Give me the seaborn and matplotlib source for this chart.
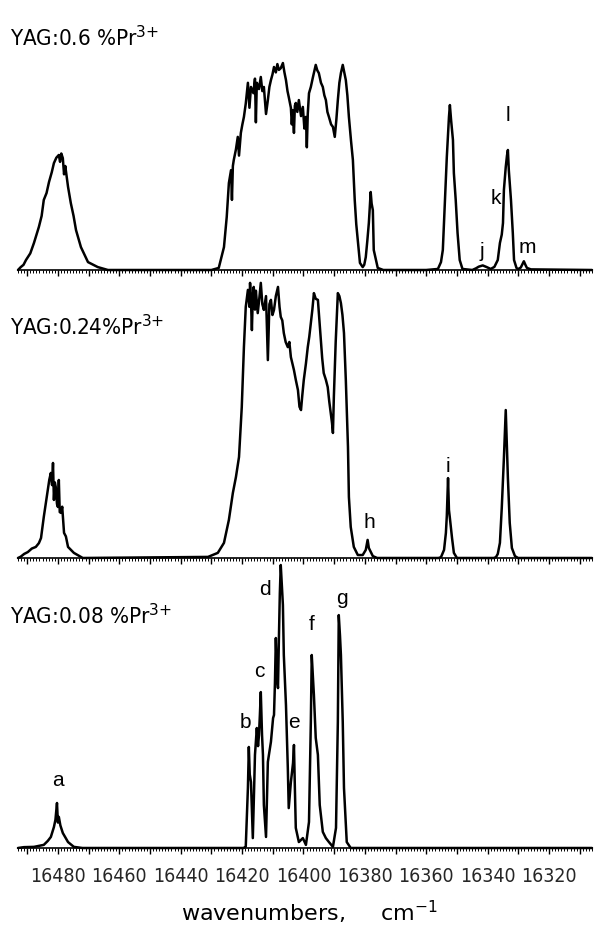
import matplotlib
matplotlib.use("Agg")
import matplotlib.pyplot as plt
from matplotlib import font_manager as fm
from matplotlib.ticker import MultipleLocator, FuncFormatter
import seaborn as sns
import pandas as pd

sns.set_theme(style="white")
plt.rcParams["font.family"] = ["Liberation Sans", "DejaVu Sans"]

# ---------------------------------------------------------------------------
# Spectra (wavenumber in cm^-1, intensity in arbitrary units per sample)
# ---------------------------------------------------------------------------
wn_06 = [16493, 16492.1, 16491.2, 16490.4, 16489.0, 16487.8, 16486.2, 16485.3, 16484.6, 16483.7,
         16482.9, 16482.0, 16481.3, 16480.5, 16479.7, 16479.3, 16478.9, 16478.4, 16478.0, 16477.6,
         16476.7, 16475.8, 16474.9, 16474.1, 16472.5, 16470.2, 16467.0, 16463.7, 16430.0,
         16427.6, 16425.9, 16425.0, 16424.3, 16423.6, 16423.3, 16423.0, 16422.7, 16422.0, 16421.4,
         16421.0, 16420.4, 16419.9, 16419.4, 16418.8, 16418.1, 16417.6, 16417.1, 16416.3, 16415.8,
         16415.5, 16415.2, 16414.5, 16413.9, 16413.4, 16412.9, 16412.2, 16411.6, 16411.1, 16410.6,
         16410.1, 16409.6, 16409.0, 16408.5, 16408.0, 16407.4, 16406.7, 16406.2, 16405.7, 16405.2,
         16404.8, 16404.1, 16403.8, 16403.5, 16403.1, 16402.8, 16402.5, 16402.0, 16401.5, 16400.8,
         16400.2, 16399.7, 16399.2, 16398.9, 16398.6, 16398.2, 16397.6, 16396.9, 16396.0, 16395.5,
         16395.0, 16394.3, 16393.7, 16393.2, 16392.7, 16392.2, 16391.7, 16391.0, 16390.4, 16389.8,
         16389.3, 16388.8, 16388.3, 16387.8, 16387.2, 16386.7, 16386.2, 16385.7, 16385.2, 16384.5,
         16383.9, 16383.3, 16382.8, 16382.3, 16381.6, 16380.7, 16380.2, 16379.7, 16379.2, 16378.7,
         16378.1, 16377.8, 16377.4, 16377.1, 16375.8, 16374.0, 16360.0, 16356.2, 16355.2, 16354.6,
         16354.0, 16353.3, 16352.6, 16352.3, 16351.9, 16351.3, 16351.0, 16350.4, 16349.8, 16349.1,
         16348.2, 16345.0, 16343.8, 16342.9, 16341.6, 16340.3, 16339.0, 16337.8, 16336.7, 16336.0,
         16335.4, 16335.0, 16334.7, 16334.1, 16333.7, 16333.4, 16333.1, 16332.7, 16332.4, 16331.8,
         16331.4, 16330.6, 16330.1, 16329.2, 16328.6, 16328.2, 16327.7, 16327.2, 16325.9, 16306]
int_06 = [0, 1.4, 2.5, 4.8, 8, 13, 20.7, 26, 33.7, 37,
          42.3, 47, 51.4, 54, 55.3, 52, 56, 53.8, 46, 50,
          40, 32.2, 26, 19.2, 11, 3.8, 1.4, 0, 0,
          1, 11, 25.5, 41.8, 48, 33.7, 50, 52.9, 58, 64,
          55, 65.9, 70, 73.6, 80, 90, 78, 88, 85, 92,
          71, 90, 87, 92.8, 86, 88, 75, 81.7, 88, 91.3,
          94, 97.6, 95, 99, 96.2, 97, 99.5, 95, 91.3, 86,
          83.2, 78, 70, 76.9, 65.9, 79, 80.3, 76, 81.7, 74,
          78.4, 68, 73.6, 59, 75, 85, 88, 92.8, 98.6, 96,
          94.7, 90, 88, 84, 81.7, 76, 73.6, 70, 68.8, 64,
          72, 81.7, 90, 94.7, 98.6, 95, 91.3, 84, 73.6, 62,
          52.9, 33.7, 22, 14.4, 3.4, 1.4, 2.5, 6.2, 14, 22.6,
          37.5, 32, 28.8, 9.6, 1, 0, 0, 0.5, 3.8, 9.6,
          30.3, 54.3, 73.6, 79.3, 72, 62.5, 46.6, 33.7, 17.8, 4.8,
          0.5, 0, 0.8, 1.6, 2.2, 1.4, 0.5, 1.5, 4.8, 13,
          17, 22.6, 38.5, 49.5, 55, 57.7, 48, 40, 33.7, 17.8,
          4.8, 1, 0.4, 1.2, 3, 4.2, 2.5, 1, 0.3, 0]

wn_024 = [16493, 16492.1, 16491.0, 16489.8, 16488.5, 16487.2, 16486.2, 16485.5, 16484.6, 16483.3,
          16482.8, 16482.3, 16481.9, 16481.6, 16481.3, 16481.0, 16480.7, 16480.3, 16480.0, 16479.7,
          16479.4, 16479.0, 16478.6, 16478.0, 16477.4, 16476.7, 16474.8, 16471.9, 16431.1, 16427.9,
          16425.9, 16424.3, 16423.0, 16422.0, 16421.0, 16420.1, 16419.4, 16418.8, 16418.1, 16417.6,
          16417.4, 16417.1, 16416.8, 16416.5, 16416.2, 16415.8, 16415.5, 16414.9, 16414.4, 16413.9,
          16413.4, 16412.9, 16412.2, 16411.6, 16411.1, 16410.6, 16410.1, 16409.6, 16409.0, 16408.3,
          16407.8, 16407.4, 16406.9, 16406.4, 16405.8, 16405.1, 16404.6, 16404.1, 16403.6, 16403.1,
          16402.5, 16401.8, 16401.3, 16400.8, 16400.4, 16399.9, 16399.2, 16398.6, 16398.1, 16397.6,
          16397.1, 16396.6, 16396.0, 16395.3, 16394.8, 16394.3, 16393.9, 16393.4, 16392.7, 16392.1,
          16391.6, 16391.1, 16390.7, 16390.4, 16390.1, 16389.5, 16388.8, 16388.3, 16387.8, 16387.3,
          16386.8, 16386.2, 16385.5, 16385.2, 16384.6, 16383.6, 16382.3, 16380.7, 16379.7, 16379.1,
          16378.7, 16377.4, 16376.0, 16356.0, 16355.2, 16354.2, 16353.6, 16353.3, 16352.9, 16352.6,
          16352.3, 16351.6, 16351.0, 16350.0, 16338.0, 16337.3, 16336.7, 16336.0, 16335.4, 16334.7,
          16334.1, 16333.8, 16333.4, 16332.8, 16332.1, 16331.1, 16330.1, 16306]
int_024 = [0, 0.5, 1.5, 2.2, 3.5, 4.1, 5.5, 7.4, 15.2, 25.2,
           29, 31.5, 27, 35.2, 21.5, 28, 26.3, 20, 18.9, 28.9,
           17, 16.7, 19, 9.3, 8, 4.1, 1.9, 0, 0.4, 1.9,
           5.6, 14.1, 24.1, 30, 37.4, 55.9, 78.1, 93, 99.3, 93,
           101.9, 95.6, 84.4, 97, 100.4, 92, 99, 90.7, 96, 101.9,
           94, 91.9, 97, 73.3, 94, 95.6, 90, 91.9, 97, 100.4,
           93, 89.3, 88, 83.3, 80, 78.1, 80, 74.4, 72, 69.6,
           66, 62.2, 56, 54.8, 60, 65.9, 72, 78.1, 82, 87,
           92, 98.1, 96, 95.6, 88, 80.7, 74, 68.5, 66, 63.3,
           58, 53.7, 50, 46.3, 59.6, 80, 98.1, 97, 94.4, 90,
           83.3, 65.9, 41.1, 22.6, 11.5, 4.1, 1.1, 1.1, 3, 6.7,
           3.7, 0.7, 0, 0, 0.3, 3, 9.3, 15.6, 29.6, 17.8,
           14.8, 7.4, 1.9, 0, 0, 0.3, 1.5, 5.6, 18.5, 37,
           54.8, 44.4, 29.6, 13, 3.7, 0.7, 0, 0]

wn_008 = [16493, 16491.1, 16487.8, 16484.6, 16483.3, 16482.3, 16481.3, 16480.8, 16480.3, 16480.0,
          16479.7, 16479.2, 16478.4, 16476.7, 16474.8, 16472.0, 16419.5, 16418.8, 16418.1, 16417.8,
          16417.5, 16417.1, 16416.5, 16416.1, 16415.8, 16415.2, 16414.8, 16414.5, 16414.2, 16413.9,
          16413.5, 16413.2, 16412.9, 16412.2, 16411.6, 16411.1, 16410.6, 16409.9, 16409.6, 16409.3,
          16409.0, 16408.6, 16408.3, 16408.0, 16407.7, 16407.4, 16407.0, 16406.7, 16406.4, 16405.7,
          16405.1, 16404.8, 16404.1, 16403.4, 16403.1, 16402.8, 16402.5, 16401.5, 16400.2, 16399.2,
          16398.2, 16397.6, 16397.3, 16396.9, 16396.6, 16396.0, 16395.3, 16394.7, 16393.7, 16392.7,
          16391.7, 16390.4, 16389.4, 16388.8, 16388.5, 16388.1, 16387.8, 16387.2, 16386.8, 16385.9,
          16384.6, 16306]
int_008 = [0, 0.3, 0.4, 1.1, 2.5, 3.9, 7.4, 10, 15.9, 9,
           11, 8, 5.3, 2.1, 0.4, 0, 0, 0.5, 21.2, 35.7,
           26, 23.3, 3.5, 20, 32.9, 42.4, 36, 39.9, 47, 55.1,
           40, 32.9, 15.2, 3.9, 30.4, 34, 37.5, 45.9, 47, 58,
           74.2, 60, 56.5, 74.2, 90, 100, 92, 85.9, 68.2, 50.5,
           28.3, 14.1, 23.3, 30, 36.4, 21.2, 7.1, 2.1, 3.5, 1.1,
           9.2, 44.5, 68.2, 60, 54.1, 38.9, 32.9, 15.2, 5.7, 3.5,
           2.1, 0.4, 7.1, 44.5, 82.3, 75, 68.2, 44.5, 21.2, 2.1,
           0, 0]

# Line assignments: letter, wavenumber of the line, label height
letters_06 = ["j", "k", "l", "m"]
lwn_06 = [16341.8, 16337.3, 16333.4, 16327.2]
lh_06 = [8.7, 34.6, 74.5, 10.6]

letters_024 = ["h", "i"]
lwn_024 = [16378.4, 16352.9]
lh_024 = [13, 34]

letters_008 = ["a", "b", "c", "d", "e", "f", "g"]
lwn_008 = [16480.0, 16418.8, 16414.5, 16412.6, 16403.1, 16397.3, 16387.5]
lh_008 = [24, 44.5, 62.2, 91.2, 44.5, 78.8, 88.3]

sample_names = ["YAG:0.6 %Pr$^{3{+}}$", "YAG:0.24%Pr$^{3{+}}$", "YAG:0.08 %Pr$^{3{+}}$"]
tick_values = [16480, 16460, 16440, 16420, 16400, 16380, 16360, 16340, 16320]

# ---------------------------------------------------------------------------
# Pick a narrow sans face if one is installed, else a regular one
# ---------------------------------------------------------------------------
def find_narrow():
    for f in fm.fontManager.ttflist:
        nm = f.name.lower()
        stretch = str(f.stretch).lower()
        narrow = ("narrow" in nm or "condensed" in nm or
                  stretch in ("condensed", "semi-condensed", "extra-condensed"))
        if narrow and f.style == "normal" and str(f.weight) in ("400", "normal", "regular", "book"):
            return f.fname
    return None

narrow_file = find_narrow()

def label_font(size):
    if narrow_file:
        return fm.FontProperties(fname=narrow_file, size=size)
    return fm.FontProperties(family=["Liberation Sans", "DejaVu Sans"], size=size)

# ---------------------------------------------------------------------------
W, H = 594, 938
fig = plt.figure(figsize=(W / 100, H / 100), dpi=100)
fig.patch.set_facecolor("white")

def px_axes(x0, x1, y_base, height):
    return fig.add_axes([x0 / W, (H - y_base) / H, (x1 - x0) / W, height / H])

panels = [
    (wn_06, int_06, letters_06, lwn_06, lh_06, 270, 208, 38),
    (wn_024, int_024, letters_024, lwn_024, lh_024, 558, 270, 327),
    (wn_008, int_008, letters_008, lwn_008, lh_008, 848, 283, 616),
]

for k, (wn, inten, letters, lwn, lh, y_base, height, y_name) in enumerate(panels):
    ax = px_axes(18, 592, y_base, height)
    ax.set_facecolor("none")
    df = pd.DataFrame({"wavenumber": wn, "intensity": inten})
    sns.lineplot(data=df, x="wavenumber", y="intensity", ax=ax, color="black",
                 linewidth=1.8, sort=False, estimator=None)
    for line in ax.lines:
        line.set_clip_on(False)
    ax.set_xlim(16493, 16306)
    ax.set_ylim(0, 100)
    ax.set_xlabel("")
    ax.set_ylabel("")
    ax.set_yticks([])
    for side in ["left", "right", "top"]:
        ax.spines[side].set_visible(False)
    ax.spines["bottom"].set_color("black")
    ax.spines["bottom"].set_linewidth(1.2)
    ax.xaxis.set_major_locator(MultipleLocator(10))
    ax.xaxis.set_minor_locator(MultipleLocator(1))
    ax.tick_params(axis="x", which="major", direction="out", length=4, width=1.0,
                   color="black", bottom=True, pad=10)
    ax.tick_params(axis="x", which="minor", direction="out", length=2, width=0.7,
                   color="black", bottom=True)
    if k == 2:
        ax.xaxis.set_major_formatter(
            FuncFormatter(lambda v, p: f"{int(round(v))}" if int(round(v)) in tick_values else ""))
        for t in ax.get_xticklabels():
            t.set_fontproperties(label_font(14))
    else:
        ax.xaxis.set_major_formatter(FuncFormatter(lambda v, p: ""))
    for lt, xw, yh in zip(letters, lwn, lh):
        ax.text(xw, yh, lt, ha="center", va="center", fontsize=15, color="black")
    fig.text(10 / W, 1 - y_name / H, sample_names[k], ha="left", va="center",
             fontproperties=label_font(16), color="black")

fig.text(310 / W, 1 - 912 / H, "wavenumbers,     cm$^{-1}$", ha="center", va="center",
         fontsize=16, color="black", family=["DejaVu Sans"])

fig.savefig("out.png", dpi=100, facecolor="white")
